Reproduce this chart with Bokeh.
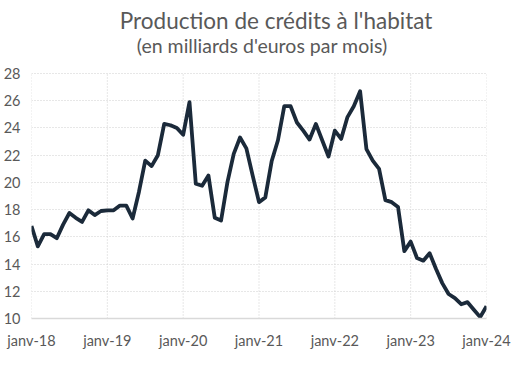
from bokeh.plotting import figure
from bokeh.models import FixedTicker, Range1d
from bokeh.core.properties import value
from bokeh.embed import file_html
from bokeh.resources import INLINE

title_text = "Production de crédits à l'habitat"
subtitle_text = "(en milliards d'euros par mois)"

tick_positions = [0, 12, 24, 36, 48, 60, 72]
tick_labels = ["janv-18", "janv-19", "janv-20", "janv-21", "janv-22", "janv-23", "janv-24"]
y_ticks = [10, 12, 14, 16, 18, 20, 22, 24, 26, 28]

v2018 = [16.8, 15.3, 16.2, 16.2, 15.9, 16.9, 17.75, 17.4, 17.1, 17.95, 17.6, 17.9]
v2019 = [17.95, 17.95, 18.3, 18.3, 17.35, 19.3, 21.6, 21.2, 22.0, 24.3, 24.2, 24.0]
v2020 = [23.5, 25.9, 19.9, 19.75, 20.5, 17.4, 17.2, 20.0, 22.1, 23.3, 22.5, 20.5]
v2021 = [18.55, 18.9, 21.55, 23.1, 25.6, 25.6, 24.4, 23.8, 23.15, 24.3, 23.1, 21.9]
v2022 = [23.8, 23.2, 24.8, 25.6, 26.7, 22.45, 21.6, 21.0, 18.7, 18.55, 18.2, 14.95]
v2023 = [15.65, 14.45, 14.25, 14.8, 13.65, 12.6, 11.8, 11.5, 11.05, 11.2, 10.65, 10.1]
v2024 = [10.9]

values = v2018 + v2019 + v2020 + v2021 + v2022 + v2023 + v2024
months = list(range(len(values)))

FONT = "Lato"
GREY = "#595959"
GRID = "#cfcfcf"

# frame extends above the data area so the titles sit inside it
p = figure(frame_width=455, frame_height=313, output_backend="svg", toolbar_location=None,
           x_range=Range1d(0, 72), y_range=Range1d(10, 33),
           min_border_left=25, min_border_right=27, min_border_top=5, min_border_bottom=42)

# vertical dotted grid lines limited to the data area
p.segment(x0=tick_positions, y0=[y_ticks[0]] * len(tick_positions),
          x1=tick_positions, y1=[y_ticks[-1]] * len(tick_positions),
          line_color=GRID, line_width=1, line_dash="1 2")

p.line(months, values, line_color="#1b2a3a", line_width=3.8, line_join="round")

p.text(x=[38.7], y=[31.93], text=[title_text], text_align="center", text_baseline="alphabetic",
       text_font=value(FONT), text_font_size="22.5px", text_color=GREY)
p.text(x=[36.5], y=[30.05], text=[subtitle_text], text_align="center", text_baseline="alphabetic",
       text_font=value(FONT), text_font_size="19.5px", text_color=GREY)

p.outline_line_color = None
p.background_fill_color = "white"

p.xaxis.ticker = FixedTicker(ticks=tick_positions)
p.xaxis.major_label_overrides = {t: l for t, l in zip(tick_positions, tick_labels)}
p.yaxis.ticker = FixedTicker(ticks=y_ticks)

for ax in (p.xaxis, p.yaxis):
    ax.major_label_text_font = FONT
    ax.major_label_text_font_size = "14.5px"
    ax.major_label_text_color = GREY
    ax.major_tick_line_color = None
    ax.minor_tick_line_color = None
    ax.major_tick_in = 0
    ax.major_tick_out = 0

p.xaxis.axis_line_color = "#d9d9d9"
p.xaxis.axis_line_width = 1.5
p.yaxis.axis_line_color = None
p.xaxis.major_label_standoff = 13
p.yaxis.major_label_standoff = 11

p.xgrid.grid_line_color = None
p.ygrid.grid_line_color = GRID
p.ygrid.grid_line_dash = "1 2"
p.ygrid.grid_line_width = 1

open("out.html", "w").write(file_html(p, INLINE))
